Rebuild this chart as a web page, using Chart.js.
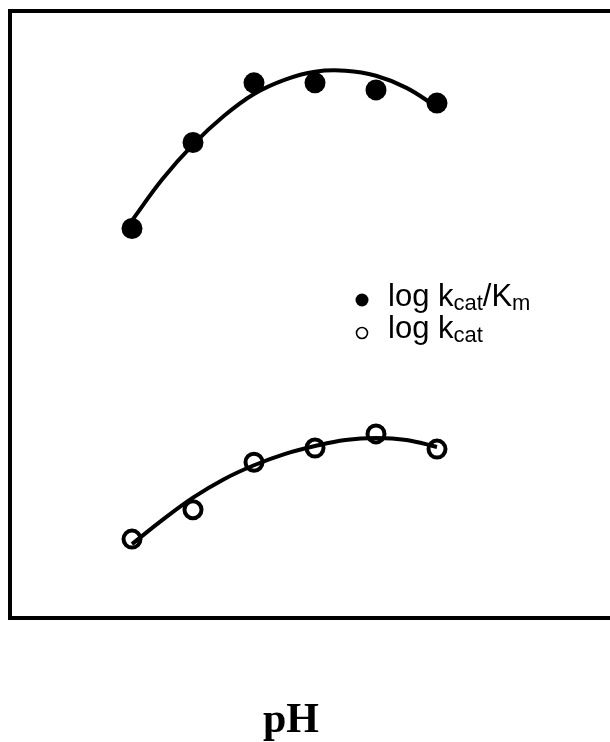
<!DOCTYPE html>
<html>
<head>
<meta charset="utf-8">
<script src="https://cdn.jsdelivr.net/npm/chart.js@4"></script>
<style>
  html, body { margin: 0; padding: 0; background: #fff; overflow: hidden; }
  #wrap { width: 610px; height: 742px; overflow: hidden; }
  canvas { display: block; }
</style>
</head>
<body>
<div id="wrap"><canvas id="c" width="620" height="742"></canvas></div>
<script>
// Measured points
const phValues = [5.0, 5.5, 6.0, 6.5, 7.0, 7.5];
const logKcatKm = [3.85, 4.70, 5.29, 5.29, 5.22, 5.09];
const logKcat = [0.78, 1.07, 1.54, 1.68, 1.82, 1.67];

// Fitted curves
const fitPh = [5.0, 5.25, 5.5, 5.75, 6.0, 6.25, 6.5, 6.75, 7.0, 7.25, 7.5];
const fitKcatKm = [3.93, 4.34, 4.68, 4.96, 5.18, 5.32, 5.40, 5.41, 5.36, 5.24, 5.05];
const fitKcat = [0.73, 0.97, 1.19, 1.37, 1.51, 1.62, 1.70, 1.76, 1.78, 1.76, 1.69];

const xTitle = 'pH';

const toXY = (xs, ys) => xs.map((x, i) => ({ x, y: ys[i] }));

// Box around the plotting area
const framePlugin = {
  id: 'frame',
  beforeDatasetsDraw(chart) {
    const { ctx, chartArea: a } = chart;
    ctx.save();
    ctx.strokeStyle = '#000';
    ctx.lineWidth = 4;
    ctx.strokeRect(a.left, a.top, a.right - a.left, a.bottom - a.top);
    ctx.restore();
  }
};

// Legend with subscripts, and the axis title below the box
const labelsPlugin = {
  id: 'labels',
  afterDraw(chart) {
    const ctx = chart.ctx;
    ctx.save();
    ctx.fillStyle = '#000';
    ctx.strokeStyle = '#000';
    ctx.textAlign = 'left';
    ctx.textBaseline = 'alphabetic';

    const main = '31px "Liberation Sans", Arial, sans-serif';
    const sub = '22px "Liberation Sans", Arial, sans-serif';
    const drawRuns = (x, y, runs) => {
      runs.forEach(([text, isSub]) => {
        ctx.font = isSub ? sub : main;
        ctx.fillText(text, x, isSub ? y + 4 : y);
        x += ctx.measureText(text).width;
      });
    };

    // filled marker
    ctx.beginPath();
    ctx.arc(362, 300, 6.5, 0, Math.PI * 2);
    ctx.fill();
    drawRuns(388, 306, [['log k', false], ['cat', true], ['/K', false], ['m', true]]);

    // open marker
    ctx.beginPath();
    ctx.lineWidth = 1.6;
    ctx.arc(362, 333, 5.5, 0, Math.PI * 2);
    ctx.stroke();
    drawRuns(388, 338, [['log k', false], ['cat', true]]);

    ctx.font = 'bold 42px "Liberation Serif", "Times New Roman", serif';
    ctx.textAlign = 'center';
    ctx.fillText(xTitle, 291, 732);
    ctx.restore();
  }
};

new Chart(document.getElementById('c'), {
  type: 'scatter',
  data: {
    datasets: [
      {
        data: toXY(fitPh, fitKcatKm),
        showLine: true,
        borderColor: '#000',
        borderWidth: 4,
        pointRadius: 0,
        tension: 0.4
      },
      {
        data: toXY(fitPh, fitKcat),
        showLine: true,
        borderColor: '#000',
        borderWidth: 4,
        pointRadius: 0,
        tension: 0.4
      },
      {
        data: toXY(phValues, logKcatKm),
        showLine: false,
        pointRadius: 10.5,
        pointBackgroundColor: '#000',
        pointBorderColor: '#000',
        pointBorderWidth: 0
      },
      {
        data: toXY(phValues, logKcat),
        showLine: false,
        pointRadius: 8.5,
        pointBackgroundColor: 'rgba(0,0,0,0)',
        pointBorderColor: '#000',
        pointBorderWidth: 4
      }
    ]
  },
  options: {
    responsive: false,
    animation: false,
    devicePixelRatio: 1,
    layout: { autoPadding: false, padding: { left: 10, top: 11, right: 0, bottom: 124 } },
    plugins: { legend: { display: false }, tooltip: { enabled: false }, title: { display: false } },
    scales: {
      x: { type: 'linear', min: 4, max: 9, display: false },
      y: { type: 'linear', min: 0, max: 6, display: false }
    }
  },
  plugins: [framePlugin, labelsPlugin]
});
</script>
</body>
</html>
